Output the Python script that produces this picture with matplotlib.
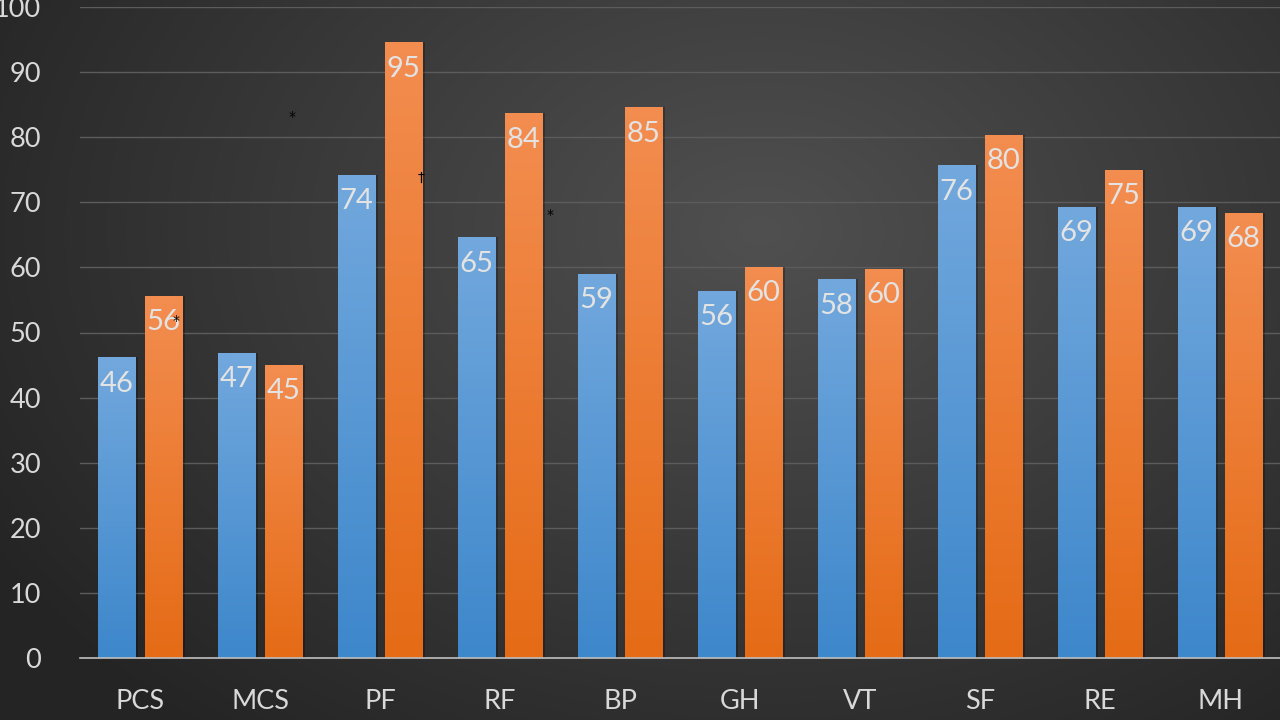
import numpy as np
import matplotlib
matplotlib.use("Agg")
import matplotlib.pyplot as plt
from matplotlib.colors import LinearSegmentedColormap

plt.rcParams['font.family'] = ['Lato', 'DejaVu Sans']

categories = ["PCS", "MCS", "PF", "RF", "BP", "GH", "VT", "SF", "RE", "MH"]
series_blue = [46.2, 46.9, 74.2, 64.6, 59.0, 56.4, 58.2, 75.7, 69.3, 69.3]
series_orange = [55.6, 45.0, 94.6, 83.7, 84.6, 60.1, 59.8, 80.4, 75.0, 68.4]
y_ticks = [0, 10, 20, 30, 40, 50, 60, 70, 80, 90, 100]
# significance markers: (symbol, category position, y value)
markers = [("*", 0.30, 51.8), ("*", 1.27, 83.1), ("†", 2.34, 73.7), ("*", 3.42, 68.0)]

W, H = 1280, 720
fig = plt.figure(figsize=(12.8, 7.2), dpi=100)

# background radial gradient
bg = fig.add_axes([0, 0, 1, 1], zorder=0)
yy, xx = np.mgrid[0:H, 0:W]
cx, cy = 760, 230
r = np.sqrt(((xx - cx) / 900.0) ** 2 + ((yy - cy) / 650.0) ** 2)
r = np.clip(r, 0, 1)
c_in = np.array([0x50, 0x50, 0x50]) / 255
c_out = np.array([0x24, 0x24, 0x24]) / 255
img = c_in[None, None, :] * (1 - r[..., None]) + c_out[None, None, :] * r[..., None]
bg.imshow(img, aspect='auto', extent=[0, 1, 0, 1], origin='upper')
bg.axis('off')

ax = fig.add_axes([80 / W, 1 - 658 / H, 1 - 80 / W, 651 / H], zorder=1)
ax.patch.set_alpha(0)
x = np.arange(len(categories))
bw = 0.31
off = 0.195
bars_b = ax.bar(x - off, series_blue, width=bw, color='none', zorder=3)
bars_o = ax.bar(x + off, series_orange, width=bw, color='none', zorder=3)

cm_b = LinearSegmentedColormap.from_list('b', ['#3d87cb', '#72a8dd'])
cm_o = LinearSegmentedColormap.from_list('o', ['#e56b16', '#f38d50'])
grad = np.linspace(0, 1, 256).reshape(-1, 1)
for bars, cm in ((bars_b, cm_b), (bars_o, cm_o)):
    for p in bars:
        x0, w, h = p.get_x(), p.get_width(), p.get_height()
        # shadow
        ax.bar(x0 + w / 2 + 0.025, h, width=w, color='black', alpha=0.25, zorder=2, linewidth=0)
        im = ax.imshow(grad, cmap=cm, origin='lower', aspect='auto',
                       extent=[x0, x0 + w, 0, h], zorder=3)
        im.set_clip_path(p)
        ax.annotate(f"{int(h + 0.5)}", (x0 + w / 2, h), xytext=(0, -19),
                    textcoords='offset points', ha='center', va='center',
                    fontsize=21, color='#e3e3e3', zorder=5)

for sym, mx, my in markers:
    ax.text(mx, my, sym, ha='center', va='center', fontsize=10, color='black',
            family='DejaVu Sans', zorder=6)

ax.set_xlim(-0.5, len(categories) - 0.5)
ax.set_ylim(0, 100)
ax.set_yticks(y_ticks)
ax.set_xticks(x)
ax.set_xticklabels(categories)
ax.tick_params(axis='y', length=0, pad=28, labelsize=19.5, labelcolor='#d9d9d9')
ax.tick_params(axis='x', length=0, pad=22, labelsize=19.5, labelcolor='#d9d9d9')
ax.yaxis.grid(True, color='#5c5c5c', linewidth=1, zorder=0)
ax.set_axisbelow(True)
for s in ['top', 'right', 'left']:
    ax.spines[s].set_visible(False)
ax.spines['bottom'].set_color('#bfbfbf')
ax.spines['bottom'].set_linewidth(1.2)
ax.spines['bottom'].set_zorder(4)

fig.savefig('out.png', dpi=100)
